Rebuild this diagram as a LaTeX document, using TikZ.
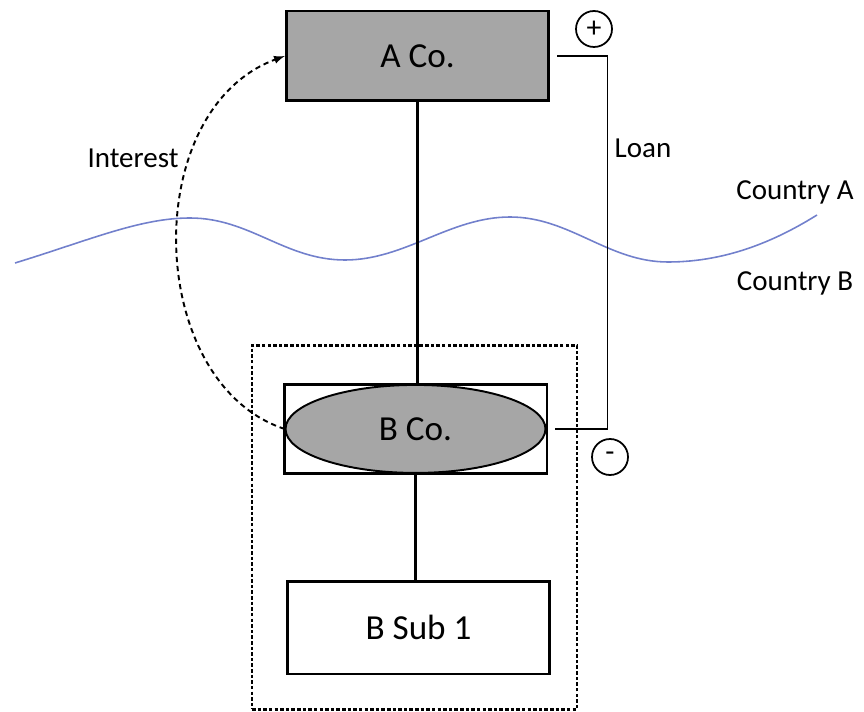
\documentclass[tikz,border=0pt]{standalone}
\usepackage{fontspec}
\setmainfont{Carlito}
\usetikzlibrary{shapes,positioning,arrows,fit,calc}
\pgfdeclarelayer{background}
\pgfsetlayers{background,main}
\definecolor{boxgray}{HTML}{A6A6A6}
\definecolor{border}{HTML}{7280CC}

\begin{document}
\begin{tikzpicture}[x=0.02cm, y=-0.02cm,
					every node/.style={on grid},
					company/.style={draw, fill=boxgray, line width=1.7pt, minimum width=5.25cm, minimum height=1.8cm, inner sep=0pt, font=\fontsize{20}{24}\selectfont},
					subco/.style={draw, line width=1.5pt, minimum width=5.25cm, minimum height=1.85cm, inner sep=0pt, font=\fontsize{20}{24}\selectfont},
					sign/.style={draw, circle, line width=1pt, minimum size=0.72cm, inner sep=0pt, font=\fontsize{17}{20}\selectfont},
					tag/.style={font=\fontsize{16.5}{20}\selectfont},
					link/.style={line width=1.7pt},
					every fit/.style={draw, line width=1.5pt, dash pattern=on 2pt off 1.2pt},
					node distance=7.46cm,
					>=latex]
	\useasboundingbox (0,0) rectangle (864,712);

	\node[company] (aco) at (417.5,56) {A Co.};
	\node[subco, fill=none, line width=1.4pt, minimum height=1.78cm, below= of aco, xshift=-0.04cm] (bbox) {};
	\node[draw, ellipse, fill=boxgray, line width=1.1pt, minimum width=5.2cm, minimum height=1.76cm, inner sep=0pt, font=\fontsize{20}{24}\selectfont] (bco) at (bbox.center) {B Co.};
	\node[subco, below= 3.98cm of bbox, xshift=0.06cm] (bsub) {B Sub 1};

	\node[sign] (plus) at (594,29) {+};
	\node[sign] (minus) at (610,457) {-};

	\node[tag] (loan) at (643,148) {Loan};
	\node[tag] (interest) at (133,158) {Interest};
	\node[tag] (ctryA) at (795,192) {Country A};
	\node[tag] (ctryB) at (795,283) {Country B};

	% border between the two countries
	\draw[border, line width=0.9pt] (15,263) .. controls (90,240) and (140,218) .. (190,218)
		.. controls (250,218) and (285,260) .. (345,260)
		.. controls (405,260) and (450,217) .. (510,217)
		.. controls (570,217) and (608,262) .. (668,262)
		.. controls (730,262) and (780,238) .. (817,215);

	\draw[link] (aco.south) -- (aco.south |- bbox.north);
	\draw[link] (bbox.south) -- (bbox.south |- bsub.north);

	\draw[line width=0.8pt] ($(aco.east)+(7,0)$) -- ++(50,0) |- ($(bbox.east)+(7,0)$);

	\draw[->, dash pattern=on 3pt off 2.2pt, line width=1.1pt] (bco.west) .. controls (145,383) and (138,110) .. (aco.west);

	\begin{pgfonlayer}{background}
		\node[fit= (bbox) (bsub), inner xsep=0.57cm, inner ysep=0.72cm, xshift=-0.05cm, yshift=0.04cm] (group) {};
	\end{pgfonlayer}
\end{tikzpicture}
\end{document}
